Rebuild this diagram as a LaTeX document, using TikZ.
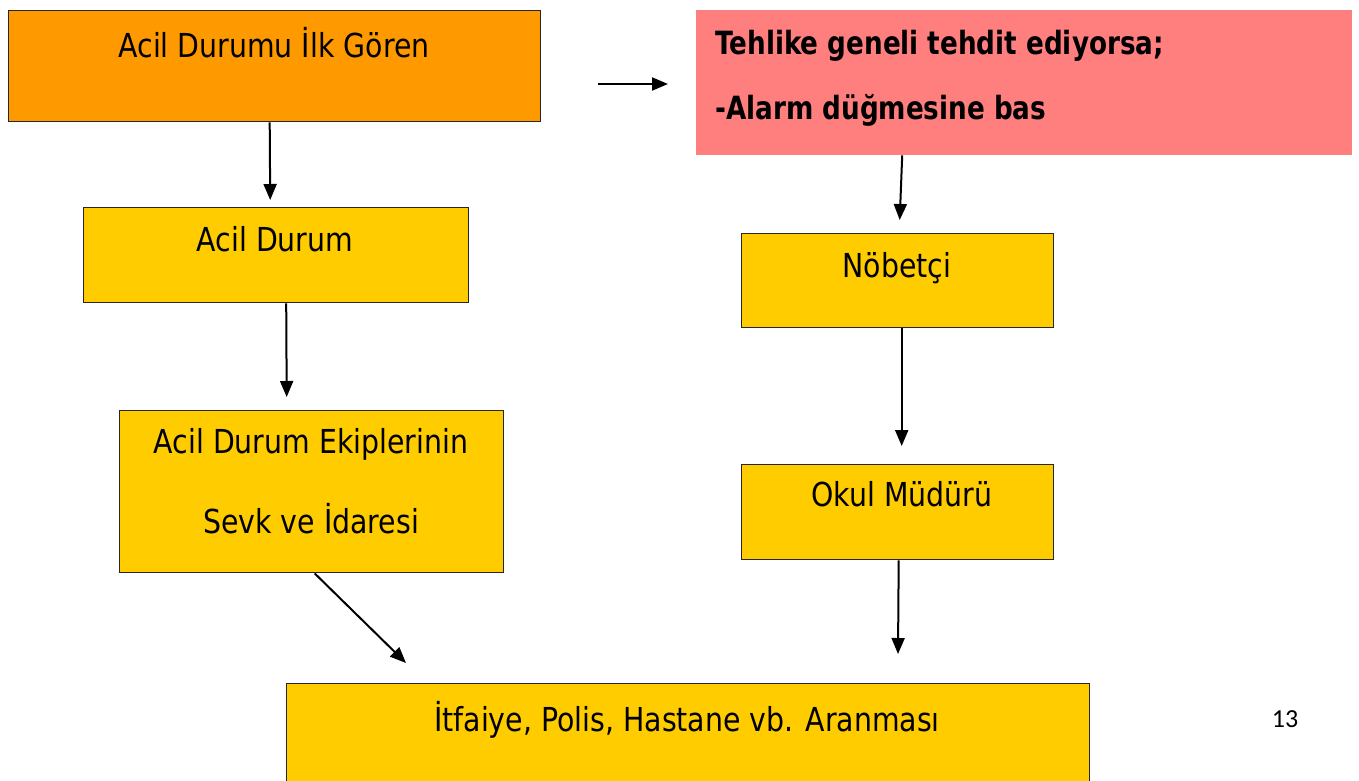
\documentclass[tikz,border=0pt]{standalone}
\usepackage{fontspec}
\setmainfont{DejaVu Sans}[FakeStretch=0.86, BoldFeatures={FakeStretch=0.82}]
\newfontfamily\numfont{Carlito}
\usetikzlibrary{arrows.meta,calc}
\definecolor{boxorange}{HTML}{FF9900}
\definecolor{boxyellow}{HTML}{FFCC00}
\definecolor{boxpink}{HTML}{FF7F7F}
\begin{document}
\begin{tikzpicture}[x=1pt,y=-1pt,
  box/.style={draw=black!85, line width=1.4pt, fill=#1, inner sep=0pt, anchor=north west},
  plain/.style={fill=#1, inner sep=0pt, anchor=north west},
  txt/.style={font=\fontsize{33}{38}\selectfont, anchor=base, inner sep=0pt},
  btxt/.style={font=\fontsize{32}{38}\selectfont\bfseries, anchor=base west, inner sep=0pt},
  arr/.style={line width=2pt, -{Triangle[length=16pt,width=13pt]}}]
\clip (0,0) rectangle (1359,780);
\fill[white] (0,0) rectangle (1359,780);
% boxes
\node[box=boxorange, minimum width=532pt, minimum height=111pt] (first) at (8,10) {};
\node[plain=boxpink, minimum width=656pt, minimum height=145pt] (warn) at (696,10) {};
\node[box=boxyellow, minimum width=385pt, minimum height=95pt] (acil) at (83,207) {};
\node[box=boxyellow, minimum width=312pt, minimum height=94pt] (nobet) at (741,233) {};
\node[box=boxyellow, minimum width=384pt, minimum height=162pt] (ekip) at (119,410) {};
\node[box=boxyellow, minimum width=312pt, minimum height=95pt] (okul) at (741,464) {};
\node[box=boxyellow, minimum width=803pt, minimum height=120pt] (itf) at (286,683) {};
% texts
\node[txt] (tfirst) at (274,57) {Acil Durumu İlk Gören};
\node[btxt] (twarn1) at (715,54) {Tehlike geneli tehdit ediyorsa;};
\node[btxt] (twarn2) at (715,119) {-Alarm düğmesine bas};
\node[txt] (tacil) at (275,251) {Acil Durum};
\node[txt] (tnobet) at (897,277) {Nöbetçi};
\node[txt] (tekip1) at (311,453) {Acil Durum Ekiplerinin};
\node[txt] (tekip2) at (311,533) {Sevk ve İdaresi};
\node[txt] (tokul) at (902,506) {Okul Müdürü};
\node[txt] (titf) at (687,731) {İtfaiye, Polis, Hastane vb. Aranması};
\node[font=\numfont\fontsize{26}{30}\selectfont, anchor=base, inner sep=0pt] (page) at (1285,727) {13};
% connectors
\coordinate (fs) at (598,84);
\draw[arr] (fs) -- ($(warn.west |- fs)+(-28,0)$);
\draw[arr] ($(first.south)+(-5,0)$) -- ($(acil.north)+(-6,-7)$);
\draw[arr] ($(acil.south)+(10,0)$) -- ($(ekip.north)+(-25,-13)$);
\draw[arr] ($(warn.south)+(-122,0)$) -- ($(nobet.north)+(2,-13)$);
\draw[arr] ($(nobet.south)+(4,0)$) -- ($(okul.north)+(4,-18)$);
\draw[arr] ($(ekip.south)+(3,0)$) -- ($(itf.north west)+(120,-20)$);
\draw[arr] ($(okul.south)+(1,0)$) -- ($(itf.north west)+(612,-29)$);
\end{tikzpicture}
\end{document}
